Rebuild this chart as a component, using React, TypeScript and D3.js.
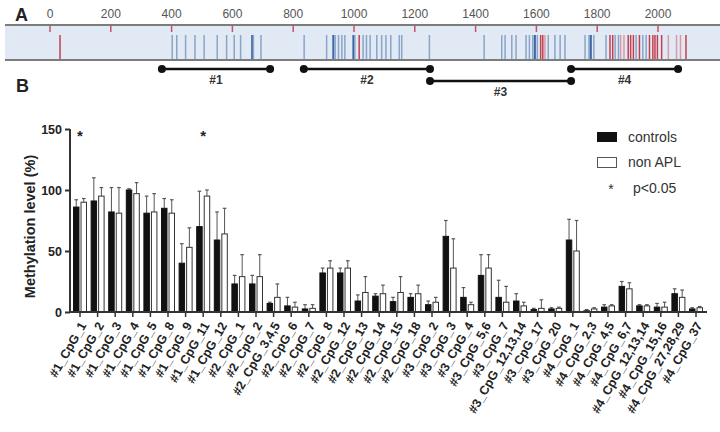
import React, { useEffect, useRef } from 'react';
import * as d3 from 'd3';

// --- Panel A data (bp positions) ---
const scaleTicks = [0, 200, 400, 600, 800, 1000, 1200, 1400, 1600, 1800, 2000];
const sitePos = [
  33,
  402, 417, 446, 477, 507, 550, 581, 606, 627, 665, 669, 694,
  836, 910, 932, 938, 949, 960, 970, 998, 1003, 1017, 1030, 1041, 1053, 1075, 1091, 1105, 1121, 1149, 1157, 1248,
  1428, 1486, 1497, 1519, 1533, 1566, 1577, 1588, 1595, 1603, 1614, 1621, 1628, 1639, 1661, 1678, 1694, 1760, 1773, 1779, 1789,
  1829, 1842, 1851, 1859, 1870, 1877, 1888, 1902, 1910, 1919, 1928, 1939, 1950, 1961, 1972, 1983, 1990, 1998, 2012, 2034, 2061, 2074, 2092,
];
const siteType = [
  'r',
  'b', 'b', 'b', 'b', 'b', 'b', 'b', 'b', 'b', 'd', 'b', 'b',
  'b', 'b', 'd', 'b', 'b', 'b', 'b', 'd', 'b', 'r', 'b', 'b', 'b', 'b', 'b', 'b', 'b', 'b', 'b', 'b',
  'b', 'b', 'b', 'b', 'b', 'b', 'b', 'b', 'd', 'b', 'r', 'r', 'p', 'b', 'b', 'b', 'b', 'b', 'b', 'd', 'b',
  'b', 'r', 'r', 'b', 'b', 'p', 'p', 'r', 'r', 'r', 'b', 'r', 'b', 'b', 'r', 'r', 'r', 'r', 'r', 'p', 'p', 'p', 'r',
];
const ampliconNames = ['#1', '#2', '#3', '#4'];
const ampliconStart = [368, 835, 1250, 1714];
const ampliconEnd = [724, 1250, 1714, 2066];
const ampliconRow = [0, 0, 1, 0];

// --- Panel B data ---
const categories = [
  '#1_CpG_1', '#1_CpG_2', '#1_CpG_3', '#1_CpG_4', '#1_CpG_5', '#1_CpG_8', '#1_CpG_9', '#1_CpG_11', '#1_CpG_12',
  '#2_CpG_1', '#2_CpG_2', '#2_CpG_3,4,5', '#2_CpG_6', '#2_CpG_7', '#2_CpG_8', '#2_CpG_12', '#2_CpG_13', '#2_CpG_14', '#2_CpG_15', '#2_CpG_18',
  '#3_CpG_2', '#3_CpG_3', '#3_CpG_4', '#3_CpG_5,6', '#3_CpG_7', '#3_CpG_12,13,14', '#3_CpG_17', '#3_CpG_20',
  '#4_CpG_1', '#4_CpG_2,3', '#4_CpG_4,5', '#4_CpG_6,7', '#4_CpG_12,13,14', '#4_CpG_15,16', '#4_CpG_27,28,29', '#4_CpG_37',
];
const controls = [86, 91, 82, 100, 81, 85, 40, 70, 59, 23, 23, 7, 5, 2.5, 32, 32, 9, 13, 8.5, 12, 6, 62, 12, 30, 12, 9, 2, 2.5, 59, 1, 4, 21, 5, 4, 15, 2.5];
const controlsErr = [6, 19, 20, 1, 14, 8, 16, 29, 23, 7, 7, 1, 7, 3.5, 4, 4, 5, 2, 3.5, 3, 3, 13, 8, 17, 14, 6, 1, 1, 17, 1, 2, 4, 1, 3, 4, 1];
const nonAPL = [90, 95, 81, 97, 82, 81, 53, 95, 64, 29, 29, 12, 4, 3, 36, 36, 16, 15, 16, 15, 8, 36, 6, 36, 8, 5, 3, 3, 50, 2.5, 5, 19, 5, 4, 12, 3.5];
const nonAPLErr = [3, 7, 21, 9, 15, 11, 16, 5, 21, 18, 18, 11, 4, 3, 6, 6, 13, 7, 13, 7, 4, 24, 2, 11, 13, 3, 7, 1, 25, 1, 1, 5, 1, 4, 6, 1];
const significant = ['#1_CpG_1', '#1_CpG_11'];
const yTicks = [0, 50, 100, 150];

const App: React.FC = () => {
  const svgRef = useRef<SVGSVGElement | null>(null);

  useEffect(() => {
    if (!svgRef.current) return;
    const svg = d3.select(svgRef.current);
    svg.selectAll('*').remove();
    const font = 'Liberation Sans, Arial, sans-serif';

    // ===== Panel A =====
    const xA = d3.scaleLinear().domain([0, 2000]).range([50, 658]);
    const a = svg.append('g');
    const siteColor: Record<string, string> = { b: '#8aa4ca', d: '#3a66a3', r: '#c4404f', p: '#d99aa8' };

    a.append('text').attr('x', 15).attr('y', 21).attr('font-family', font).attr('font-weight', 'bold')
      .attr('font-size', 18).attr('fill', '#222').text('A');
    a.append('text').attr('x', 16).attr('y', 92).attr('font-family', font).attr('font-weight', 'bold')
      .attr('font-size', 18).attr('fill', '#222').text('B');

    a.selectAll('.sc').data(scaleTicks).enter().append('text')
      .attr('x', d => xA(d)).attr('y', 18).attr('text-anchor', 'middle')
      .attr('font-family', font).attr('font-size', 12).attr('fill', '#555').text(d => d);

    a.append('rect').attr('x', 5).attr('y', 25).attr('width', 715).attr('height', 35).attr('fill', '#e1e9f4');
    a.append('line').attr('x1', 5).attr('x2', 720).attr('y1', 25).attr('y2', 25).attr('stroke', '#7c7c7c').attr('stroke-width', 2);
    a.append('line').attr('x1', 5).attr('x2', 720).attr('y1', 60).attr('y2', 60).attr('stroke', '#7c7c7c').attr('stroke-width', 2);

    a.selectAll('.tk').data(scaleTicks).enter().append('line')
      .attr('x1', d => xA(d)).attr('x2', d => xA(d)).attr('y1', 26).attr('y2', 32)
      .attr('stroke', '#c8506a').attr('stroke-width', 1.5);

    a.selectAll('.site').data(sitePos).enter().append('line')
      .attr('x1', d => xA(d)).attr('x2', d => xA(d)).attr('y1', 35).attr('y2', 59)
      .attr('stroke', (_d, i) => siteColor[siteType[i]]).attr('stroke-width', (_d, i) => (siteType[i] === 'd' ? 2 : 1.5));

    const rowY = [69, 81];
    ampliconNames.forEach((name, i) => {
      const y = rowY[ampliconRow[i]];
      const x1 = xA(ampliconStart[i]);
      const x2 = xA(ampliconEnd[i]);
      a.append('line').attr('x1', x1).attr('x2', x2).attr('y1', y).attr('y2', y).attr('stroke', '#111').attr('stroke-width', 2.5);
      a.append('circle').attr('cx', x1).attr('cy', y).attr('r', 4).attr('fill', '#111');
      a.append('circle').attr('cx', x2).attr('cy', y).attr('r', 4).attr('fill', '#111');
      a.append('text').attr('x', (x1 + x2) / 2).attr('y', y + 15).attr('text-anchor', 'middle')
        .attr('font-family', font).attr('font-weight', 'bold').attr('font-size', 12).attr('fill', '#333').text(name);
    });

    // ===== Panel B =====
    const x = d3.scaleBand<string>().domain(categories).range([71.2, 704.8]);
    const x1 = d3.scaleBand<string>().domain(['c', 'n']).range([-7, 7]).paddingInner(0.14);
    const y = d3.scaleLinear().domain([0, 150]).range([312, 129]);
    const b = svg.append('g');
    const cx = (d: string) => (x(d) as number) + x.bandwidth() / 2;

    const series = [
      { key: 'c', vals: controls, errs: controlsErr, fill: '#111', stroke: '#111' },
      { key: 'n', vals: nonAPL, errs: nonAPLErr, fill: '#fff', stroke: '#333' },
    ];

    series.forEach(s => {
      const bx = (d: string) => cx(d) + (x1(s.key) as number);
      const w = x1.bandwidth();
      // error bars
      b.selectAll(`.err-${s.key}`).data(categories).enter().append('line')
        .attr('x1', d => bx(d) + w / 2).attr('x2', d => bx(d) + w / 2)
        .attr('y1', (_d, i) => y(s.vals[i])).attr('y2', (_d, i) => y(s.vals[i] + s.errs[i]))
        .attr('stroke', '#555').attr('stroke-width', 1);
      b.selectAll(`.cap-${s.key}`).data(categories).enter().append('line')
        .attr('x1', d => bx(d) + w / 2 - 1.8).attr('x2', d => bx(d) + w / 2 + 1.8)
        .attr('y1', (_d, i) => y(s.vals[i] + s.errs[i])).attr('y2', (_d, i) => y(s.vals[i] + s.errs[i]))
        .attr('stroke', '#555').attr('stroke-width', 1.2);
      b.selectAll(`.bar-${s.key}`).data(categories).enter().append('rect')
        .attr('x', d => bx(d) + 0.5).attr('width', w - 1)
        .attr('y', (_d, i) => y(s.vals[i])).attr('height', (_d, i) => y(0) - y(s.vals[i]))
        .attr('fill', s.fill).attr('stroke', s.stroke).attr('stroke-width', 1);
    });

    // significance stars
    b.selectAll('.star').data(significant).enter().append('text')
      .attr('x', d => cx(d)).attr('y', y(140)).attr('text-anchor', 'middle')
      .attr('font-family', font).attr('font-weight', 'bold').attr('font-size', 15).attr('fill', '#222').text('*');

    // axes
    const yAxis = b.append('g').attr('transform', 'translate(70,0)')
      .call(d3.axisLeft(y).tickValues(yTicks).tickSize(5).tickPadding(3));
    yAxis.select('.domain').attr('stroke', '#333').attr('stroke-width', 2).attr('d', `M0,${y(150)}V${y(0)}`);
    yAxis.selectAll('line').attr('stroke', '#333').attr('stroke-width', 2);
    yAxis.selectAll('text').attr('font-family', font).attr('font-weight', 'bold').attr('font-size', 12.5).attr('fill', '#222');

    const xAxis = b.append('g').attr('transform', `translate(0,${y(0)})`)
      .call(d3.axisBottom(x).tickSize(5).tickFormat(() => ''));
    xAxis.select('.domain').attr('stroke', '#333').attr('stroke-width', 2).attr('d', 'M70,0H707');
    xAxis.selectAll('line').attr('stroke', '#333').attr('stroke-width', 1.5);

    b.selectAll('.xl').data(categories).enter().append('text')
      .attr('transform', d => `translate(${cx(d) + 3},${y(0) + 11}) rotate(-60)`)
      .attr('text-anchor', 'end').attr('dy', '0.35em')
      .attr('font-family', font).attr('font-weight', 'bold').attr('font-size', 12.5).attr('fill', '#222').text(d => d);

    b.append('text').attr('transform', `translate(35,${(y(0) + y(150)) / 2 + 6}) rotate(-90)`)
      .attr('text-anchor', 'middle').attr('font-family', font).attr('font-weight', 'bold')
      .attr('font-size', 14.5).attr('fill', '#222').text('Methylation level (%)');

    // legend
    const lg = b.append('g');
    lg.append('rect').attr('x', 597).attr('y', 132).attr('width', 20).attr('height', 10).attr('fill', '#111');
    lg.append('rect').attr('x', 597.5).attr('y', 157.5).attr('width', 19).attr('height', 10).attr('fill', '#fff')
      .attr('stroke', '#555').attr('stroke-width', 1);
    lg.append('text').attr('x', 611).attr('y', 194).attr('text-anchor', 'middle').attr('font-family', font)
      .attr('font-size', 14).attr('fill', '#333').text('*');
    const labels = ['controls', 'non APL', 'p<0.05'];
    const ly = [142, 167, 193];
    const lx = [628, 628, 633];
    labels.forEach((t, i) => {
      lg.append('text').attr('x', lx[i]).attr('y', ly[i]).attr('font-family', font)
        .attr('font-size', 14).attr('fill', '#333').text(t);
    });
  }, []);

  return (
    <svg ref={svgRef} width={720} height={432} style={{ position: 'absolute', left: 0, top: 0, background: '#fff' }} />
  );
};

export default App;
